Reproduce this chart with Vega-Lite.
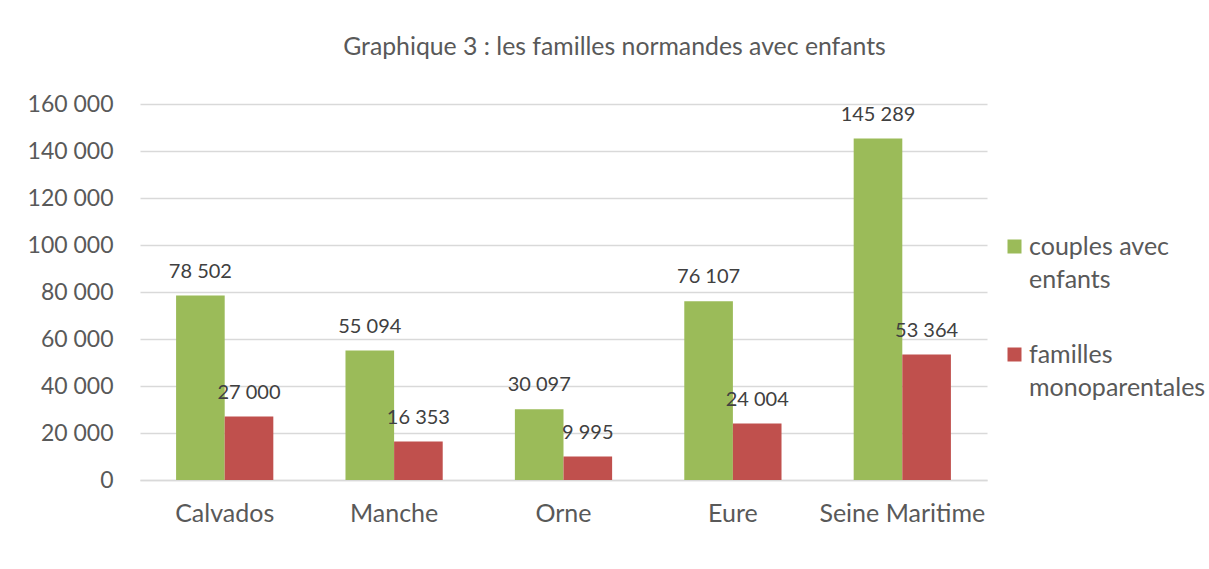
{
  "$schema": "https://vega.github.io/schema/vega-lite/v6.json",
  "autosize": "none",
  "width": 847,
  "height": 376,
  "padding": {"left": 140, "top": 104, "right": 222, "bottom": 89},
  "background": "white",
  "title": {
    "text": "Graphique 3 : les familles normandes avec enfants",
    "font": "Lato",
    "fontSize": 24.8,
    "fontWeight": "normal",
    "color": "#595959",
    "anchor": "middle",
    "dx": 51,
    "offset": 33
  },
  "data": {
    "values": [
      {"dept": "Calvados", "serie": "couples avec enfants", "value": 78502},
      {"dept": "Calvados", "serie": "familles monoparentales", "value": 27000},
      {"dept": "Manche", "serie": "couples avec enfants", "value": 55094},
      {"dept": "Manche", "serie": "familles monoparentales", "value": 16353},
      {"dept": "Orne", "serie": "couples avec enfants", "value": 30097},
      {"dept": "Orne", "serie": "familles monoparentales", "value": 9995},
      {"dept": "Eure", "serie": "couples avec enfants", "value": 76107},
      {"dept": "Eure", "serie": "familles monoparentales", "value": 24004},
      {"dept": "Seine Maritime", "serie": "couples avec enfants", "value": 145289},
      {"dept": "Seine Maritime", "serie": "familles monoparentales", "value": 53364}
    ]
  },
  "encoding": {
    "x": {
      "field": "dept",
      "type": "nominal",
      "sort": null,
      "scale": {"paddingInner": 0.426, "paddingOuter": 0.213},
      "axis": {
        "title": null,
        "labelAngle": 0,
        "labelFont": "Lato",
        "labelFontSize": 25,
        "labelColor": "#595959",
        "labelPadding": 21,
        "ticks": false,
        "domain": true,
        "domainColor": "#d9d9d9",
        "domainWidth": 1.5,
        "grid": false
      }
    },
    "xOffset": {"field": "serie", "type": "nominal", "scale": {"paddingInner": 0}},
    "y": {
      "field": "value",
      "type": "quantitative",
      "scale": {"domain": [0, 160000], "nice": false},
      "axis": {
        "title": null,
        "values": [0, 20000, 40000, 60000, 80000, 100000, 120000, 140000, 160000],
        "format": ",d",
        "labelFont": "Lato",
        "labelFontSize": 23,
        "labelColor": "#595959",
        "labelPadding": 27,
        "ticks": false,
        "domain": false,
        "grid": true,
        "gridColor": "#d9d9d9",
        "gridWidth": 1.5
      }
    }
  },
  "layer": [
    {
      "mark": {"type": "bar"},
      "encoding": {
        "color": {
          "field": "serie",
          "type": "nominal",
          "scale": {
            "domain": ["couples avec enfants", "familles monoparentales"],
            "range": ["#9BBB59", "#C0504D"]
          },
          "legend": {
            "title": null,
            "orient": "none",
            "legendX": 862,
            "legendY": 130,
            "symbolType": "square",
            "symbolSize": 196,
            "symbolStrokeWidth": 0,
            "labelFont": "Lato",
            "labelFontSize": 25,
            "labelColor": "#595959",
            "labelLimit": 300,
            "labelOffset": 2,
            "rowPadding": 49,
            "labelExpr": "datum.value == 'couples avec enfants' ? ['couples avec', 'enfants'] : ['familles', 'monoparentales']"
          }
        }
      }
    },
    {
      "mark": {
        "type": "text",
        "baseline": "bottom",
        "dy": -14,
        "font": "Lato",
        "fontSize": 20,
        "color": "#404040"
      },
      "encoding": {
        "text": {"field": "value", "type": "quantitative", "format": ",d"}
      }
    }
  ],
  "config": {
    "view": {"stroke": null},
    "style": {"guide-label": {"lineHeight": 33}},
    "locale": {
      "number": {
        "decimal": ",",
        "thousands": " ",
        "grouping": [3],
        "currency": ["", " €"]
      }
    }
  }
}
